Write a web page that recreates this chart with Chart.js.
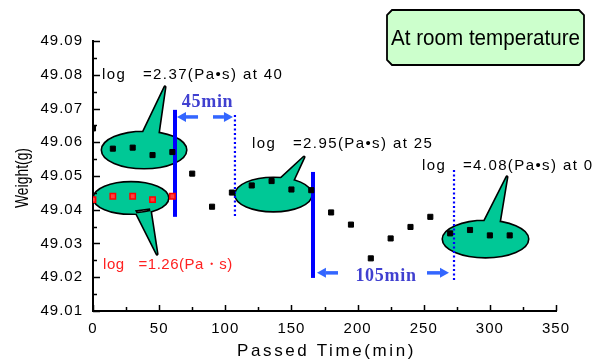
<!DOCTYPE html>
<html>
<head>
<meta charset="utf-8">
<script src="https://cdn.jsdelivr.net/npm/chart.js@4.4.1/dist/chart.umd.min.js"></script>
<style>
  html, body { margin: 0; padding: 0; background: #fff; }
  canvas { display: block; }
</style>
</head>
<body>
<canvas id="c" width="604" height="363"></canvas>
<script>
// Weight of the sample measured every 15 minutes
const timeMin   = [0, 15, 30, 45, 60, 75, 90, 105, 120, 135, 150, 165, 180, 195, 210, 225, 240, 255, 270, 285, 300, 315];
const weightG   = [49.0641, 49.0581, 49.0584, 49.0562, 49.0571, 49.0507, 49.0409, 49.0451, 49.0472, 49.0485,
                   49.0460, 49.0458, 49.0392, 49.0356, 49.0256, 49.0315, 49.0349, 49.0379, 49.0330, 49.0340,
                   49.0324, 49.0324];
// Reference sample (lowest viscosity)
const refTimeMin = [0, 15, 30, 45, 60];
const refWeightG = [49.0430, 49.0440, 49.0440, 49.0430, 49.0440];

const xTickValues = [0, 50, 100, 150, 200, 250, 300, 350];
const yTickValues = [49.01, 49.02, 49.03, 49.04, 49.05, 49.06, 49.07, 49.08, 49.09];

const xTitle = 'Passed Time(min)';
const yTitle = 'Weight(g)';
const boxText = 'At room temperature';

// Viscosity callouts: label text, bubble ellipse and tail (all in data units)
const viscLabels = [
  { text: 'log   =2.37(Pa•s) at 40', t: 6.8,   w: 49.0799, color: '#000000', spacing: 1.4 },
  { text: 'log   =2.95(Pa•s) at 25', t: 120.2, w: 49.0595, color: '#000000', spacing: 1.4 },
  { text: 'log   =4.08(Pa•s) at 0',  t: 248.7, w: 49.0530, color: '#000000', spacing: 1.4 },
  { text: 'log   =1.26(Pa・s)',      t: 7.6,   w: 49.0236, color: '#ff2020', spacing: 0.5 }
];
const bubbles = [
  { t: 38.6,  w: 49.0577, rt: 31.7, rw: 0.00533, base: [37.0, 49.1],   side: 'top',    tip: [54.4, 49.0764] },
  { t: 28.7,  w: 49.0435, rt: 28.0, rw: 0.00460, base: [31.7, 43.1],   side: 'bottom', tip: [48.4, 49.0269] },
  { t: 136.4, w: 49.0445, rt: 28.7, rw: 0.00490, base: [139.8, 150.4], side: 'top',    tip: [159.5, 49.0556] },
  { t: 296.7, w: 49.0313, rt: 32.1, rw: 0.00533, base: [294.8, 306.9], side: 'top',    tip: [312.9, 49.0497] }
];
// Interval markers: solid = start, dotted = end
const intervalLines = [
  { t: 62.0,  from: 49.0379, to: 49.0696, dotted: false },
  { t: 107.3, from: 49.0376, to: 49.0681, dotted: true },
  { t: 166.3, from: 49.0198, to: 49.0512, dotted: false },
  { t: 272.9, from: 49.0192, to: 49.0518, dotted: true }
];
const intervalArrows = [
  { from: 79.4,  to: 63.5,  w: 49.0675 },
  { from: 90.7,  to: 105.8, w: 49.0675 },
  { from: 185.2, to: 169.3, w: 49.0213 },
  { from: 252.5, to: 269.1, w: 49.0213 }
];
const intervalTexts = [
  { text: '45min',  t: 86.6,  w: 49.0719 },
  { text: '105min', t: 221.5, w: 49.0202 }
];

const SANS = "'Liberation Sans', Arial, sans-serif";

function drawBubble(ctx, xs, ys, b) {
  const cx = xs.getPixelForValue(b.t), cy = ys.getPixelForValue(b.w);
  const rx = Math.abs(xs.getPixelForValue(b.t + b.rt) - cx);
  const ry = Math.abs(ys.getPixelForValue(b.w + b.rw) - cy);
  const tipX = xs.getPixelForValue(b.tip[0]), tipY = ys.getPixelForValue(b.tip[1]);
  const sgn = b.side === 'top' ? -1 : 1;
  const pts = b.base.map(t => {
    const x = xs.getPixelForValue(t);
    const k = Math.max(0, 1 - Math.pow((x - cx) / rx, 2));
    return [x, cy + sgn * (ry * Math.sqrt(k) - 3)];
  });
  const shape = () => {
    ctx.beginPath();
    ctx.ellipse(cx, cy, rx, ry, 0, 0, Math.PI * 2);
    ctx.moveTo(pts[0][0], pts[0][1]);
    ctx.lineTo(tipX, tipY);
    ctx.lineTo(pts[1][0], pts[1][1]);
    ctx.closePath();
  };
  ctx.save();
  ctx.lineJoin = 'round';
  ctx.strokeStyle = '#000';
  ctx.lineWidth = 3.2;
  shape();
  ctx.stroke();
  ctx.fillStyle = '#00c896';
  shape();
  ctx.fill('nonzero');
  ctx.restore();
}

function drawArrow(ctx, x0, x1, y) {
  const dir = Math.sign(x1 - x0);
  const head = 9, half = 5;
  ctx.save();
  ctx.strokeStyle = '#3366ff';
  ctx.fillStyle = '#3366ff';
  ctx.lineWidth = 3.5;
  ctx.beginPath();
  ctx.moveTo(x0, y);
  ctx.lineTo(x1 - dir * head, y);
  ctx.stroke();
  ctx.beginPath();
  ctx.moveTo(x1, y);
  ctx.lineTo(x1 - dir * head, y - half);
  ctx.lineTo(x1 - dir * head, y + half);
  ctx.closePath();
  ctx.fill();
  ctx.restore();
}

// text squeezed to a given width along its baseline
function fitText(ctx, text, x, y, width) {
  const w = ctx.measureText(text).width;
  ctx.save();
  ctx.translate(x, y);
  ctx.scale(width / w, 1);
  ctx.fillText(text, 0, 0);
  ctx.restore();
}

const calloutPlugin = {
  id: 'callouts',
  beforeDraw(chart) {
    chart.ctx.letterSpacing = '1px';
  },
  beforeDatasetsDraw(chart) {
    const { ctx, scales: { x: xs, y: ys } } = chart;
    bubbles.forEach(b => drawBubble(ctx, xs, ys, b));

    ctx.save();
    ctx.strokeStyle = '#0000ff';
    intervalLines.forEach(l => {
      const x = xs.getPixelForValue(l.t);
      ctx.beginPath();
      if (l.dotted) { ctx.lineWidth = 2.2; ctx.setLineDash([2, 2.5]); }
      else { ctx.lineWidth = 4; ctx.setLineDash([]); }
      ctx.moveTo(x, ys.getPixelForValue(l.to));
      ctx.lineTo(x, ys.getPixelForValue(l.from));
      ctx.stroke();
    });
    ctx.restore();

    intervalArrows.forEach(a => drawArrow(ctx, xs.getPixelForValue(a.from), xs.getPixelForValue(a.to), ys.getPixelForValue(a.w)));

    ctx.save();
    ctx.letterSpacing = '0.7px';
    ctx.font = "bold 18px 'Liberation Serif', 'Times New Roman', serif";
    ctx.fillStyle = '#4040d0';
    ctx.textAlign = 'center';
    ctx.textBaseline = 'middle';
    intervalTexts.forEach(s => ctx.fillText(s.text, xs.getPixelForValue(s.t), ys.getPixelForValue(s.w)));
    ctx.restore();

    ctx.save();
    ctx.font = '15px ' + SANS;
    ctx.textAlign = 'left';
    ctx.textBaseline = 'middle';
    viscLabels.forEach(s => {
      ctx.letterSpacing = s.spacing + 'px';
      ctx.fillStyle = s.color;
      ctx.fillText(s.text, xs.getPixelForValue(s.t), ys.getPixelForValue(s.w));
    });
    ctx.restore();
  },
  afterDraw(chart) {
    const { ctx, chartArea: ca, scales: { x: xs, y: ys } } = chart;
    // inward major and minor ticks
    ctx.save();
    ctx.strokeStyle = '#000';
    ctx.lineWidth = 1.5;
    ctx.beginPath();
    yTickValues.forEach((v, i) => {
      const y = Math.round(ys.getPixelForValue(v)) + 0.5;
      ctx.moveTo(ca.left, y); ctx.lineTo(ca.left + 7, y);
      if (i < yTickValues.length - 1) {
        const ym = Math.round(ys.getPixelForValue((v + yTickValues[i + 1]) / 2)) + 0.5;
        ctx.moveTo(ca.left, ym); ctx.lineTo(ca.left + 4, ym);
      }
    });
    xTickValues.forEach((v, i) => {
      const x = Math.round(xs.getPixelForValue(v)) + 0.5;
      ctx.moveTo(x, ca.bottom); ctx.lineTo(x, ca.bottom - 6);
      if (i < xTickValues.length - 1) {
        const xm = Math.round(xs.getPixelForValue((v + xTickValues[i + 1]) / 2)) + 0.5;
        ctx.moveTo(xm, ca.bottom); ctx.lineTo(xm, ca.bottom - 4);
      }
    });
    ctx.stroke();
    ctx.restore();

    // axis titles
    ctx.save();
    ctx.fillStyle = '#000';
    ctx.textAlign = 'center';
    ctx.textBaseline = 'middle';
    ctx.font = '17px ' + SANS;
    ctx.letterSpacing = '2.6px';
    ctx.fillText(xTitle, (ca.left + ca.right) / 2 + 2, 351);
    ctx.font = '19px ' + SANS;
    ctx.letterSpacing = '0px';
    ctx.translate(23, 178);
    ctx.rotate(-Math.PI / 2);
    fitText(ctx, yTitle, 0, 0, 60);
    ctx.restore();

    // condition box
    const bx = 387, by = 10, bw = 197, bh = 55, c = 5;
    ctx.save();
    ctx.beginPath();
    ctx.moveTo(bx + c, by);
    ctx.lineTo(bx + bw - c, by);
    ctx.lineTo(bx + bw, by + c);
    ctx.lineTo(bx + bw, by + bh - c);
    ctx.lineTo(bx + bw - c, by + bh);
    ctx.lineTo(bx + c, by + bh);
    ctx.lineTo(bx, by + bh - c);
    ctx.lineTo(bx, by + c);
    ctx.closePath();
    ctx.fillStyle = '#ccffcc';
    ctx.fill();
    ctx.strokeStyle = '#000';
    ctx.lineWidth = 1.8;
    ctx.stroke();
    ctx.letterSpacing = '0px';
    ctx.font = '22px ' + SANS;
    ctx.fillStyle = '#000';
    ctx.textAlign = 'center';
    ctx.textBaseline = 'middle';
    fitText(ctx, boxText, bx + bw / 2, by + bh / 2 + 1, 189);
    ctx.restore();
  }
};

new Chart(document.getElementById('c'), {
  type: 'scatter',
  data: {
    datasets: [
      {
        data: timeMin.map((t, i) => ({ x: t, y: weightG[i] })),
        pointStyle: 'rect',
        pointRadius: 3.6,
        backgroundColor: '#000',
        borderColor: '#000',
        borderWidth: 1,
        clip: { left: 0, top: false, right: false, bottom: false }
      },
      {
        data: refTimeMin.map((t, i) => ({ x: t, y: refWeightG[i] })),
        pointStyle: 'rect',
        pointRadius: 3.8,
        backgroundColor: '#ff4040',
        borderColor: '#ff0000',
        borderWidth: 1.5,
        clip: { left: 0, top: false, right: false, bottom: false }
      }
    ]
  },
  options: {
    responsive: false,
    animation: false,
    devicePixelRatio: 1,
    layout: { padding: { left: 0, top: 41, right: 48, bottom: 0 } },
    plugins: { legend: { display: false }, tooltip: { enabled: false } },
    scales: {
      x: {
        type: 'linear',
        min: 0, max: 350,
        afterBuildTicks: s => { s.ticks = xTickValues.map(v => ({ value: v })); },
        afterFit: s => { s.height = 52; },
        grid: { display: false, drawTicks: false },
        border: { display: true, color: '#000', width: 2 },
        ticks: { color: '#000', padding: 9, font: { family: SANS, size: 15 }, maxRotation: 0, callback: v => String(v) }
      },
      y: {
        type: 'linear',
        min: 49.01, max: 49.09,
        afterBuildTicks: s => { s.ticks = yTickValues.map(v => ({ value: v })); },
        afterFit: s => { s.width = 93; },
        grid: { display: false, drawTicks: false },
        border: { display: true, color: '#000', width: 2 },
        ticks: { color: '#000', padding: 10, font: { family: SANS, size: 15 }, callback: v => Number(v).toFixed(2) }
      }
    }
  },
  plugins: [calloutPlugin]
});
</script>
</body>
</html>
